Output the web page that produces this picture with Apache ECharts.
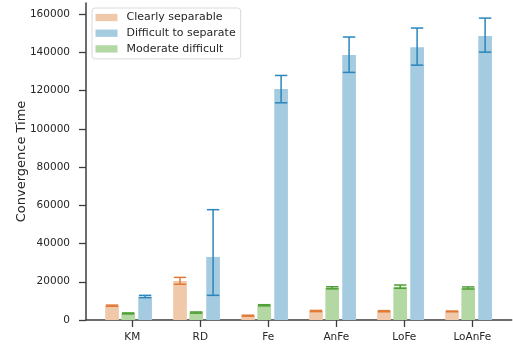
<!DOCTYPE html>
<html><head><meta charset="utf-8">
<script src="https://cdn.jsdelivr.net/npm/echarts@6/dist/echarts.min.js"></script>
<style>html,body{margin:0;padding:0;background:#fff}#c{width:513px;height:345px}</style>
</head><body><div id="c"></div>
<script>
const categories = ['KM', 'RD', 'Fe', 'AnFe', 'LoFe', 'LoAnFe'];
const seriesNames = ['Clearly separable', 'Difficult to separate', 'Moderate difficult'];
const clearMean = [7500, 20400, 2200, 4700, 4600, 4500];
const clearLow  = [7200, 18700, 2000, 4400, 4300, 4300];
const clearHigh = [7800, 22300, 2500, 5000, 4900, 4700];
const diffMean = [12200, 33000, 120800, 138600, 142700, 148500];
const diffLow  = [11700, 12900, 113600, 129500, 133300, 140100];
const diffHigh = [12900, 57700, 127900, 148000, 152700, 157900];
const modMean = [3400, 3900, 7700, 16900, 17400, 16700];
const modLow  = [3200, 3600, 7400, 16300, 16600, 16200];
const modHigh = [3700, 4200, 8000, 17400, 18300, 17300];
const yTicks = [0, 20000, 40000, 60000, 80000, 100000, 120000, 140000, 160000];

const FONT = 'DejaVu Sans';
const catIdx = categories.map((c, i) => i);
const groups = [
  { name: seriesNames[0], mean: clearMean, lo: clearLow, hi: clearHigh, off: -0.2985, fill: '#f0c9aa', err: '#e07a36' },
  { name: seriesNames[2], mean: modMean, lo: modLow, hi: modHigh, off: -0.0603, fill: '#b3d8a4', err: '#4d9e33' },
  { name: seriesNames[1], mean: diffMean, lo: diffLow, hi: diffHigh, off: 0.188, fill: '#a5cbe1', err: '#2a86bc' }
];

function errRender(color) {
  return function (params, api) {
    const x = api.value(0), lo = api.value(1), hi = api.value(2);
    const a = api.coord([x, lo]), b = api.coord([x, hi]);
    const hw = 6.2;
    const st = { stroke: color, lineWidth: 1.5 };
    return { type: 'group', children: [
      { type: 'line', shape: { x1: a[0], y1: a[1], x2: b[0], y2: b[1] }, style: st },
      { type: 'line', shape: { x1: a[0] - hw, y1: a[1], x2: a[0] + hw, y2: a[1] }, style: st },
      { type: 'line', shape: { x1: b[0] - hw, y1: b[1], x2: b[0] + hw, y2: b[1] }, style: st }
    ]};
  };
}

const series = [];
groups.forEach(g => {
  series.push({
    name: g.name, type: 'bar', barWidth: 13.7, barGap: '-100%',
    itemStyle: { color: g.fill },
    data: catIdx.map(i => [i + g.off, g.mean[i]]),
    z: 2
  });
});
groups.forEach(g => {
  series.push({
    name: g.name + ' err', type: 'custom', renderItem: errRender(g.err),
    encode: { x: 0, y: [1, 2] },
    data: catIdx.map(i => [i + g.off, g.lo[i], g.hi[i]]),
    z: 5
  });
});

const axisColor = '#3d3d3d';
const chart = echarts.init(document.getElementById('c'), null, { renderer: 'canvas' });
chart.setOption({
  animation: false,
  textStyle: { fontFamily: FONT },
  grid: { left: 86, right: 1.3, top: 3, bottom: 25, containLabel: false },
  legend: {
    data: seriesNames, orient: 'vertical', left: 92, top: 8,
    backgroundColor: '#fff', borderColor: '#d9d9d9', borderWidth: 1, borderRadius: 3,
    padding: [3.5, 5, 4, 3.5], itemWidth: 22, itemHeight: 7.3, itemGap: 3.7,
    icon: 'rect',
    textStyle: { fontFamily: FONT, fontSize: 11, color: '#262626', lineHeight: 12, padding: [0, 0, 0, 4] }
  },
  xAxis: {
    type: 'value', min: -0.681, max: 5.579,
    splitLine: { show: false },
    axisLine: { show: true, onZero: false, lineStyle: { color: axisColor, width: 1.5 } },
    axisTick: { show: true, length: 7, customValues: catIdx, lineStyle: { color: axisColor, width: 1.3 } },
    axisLabel: { customValues: catIdx, formatter: v => categories[Math.round(v)], margin: 12,
      fontFamily: FONT, fontSize: 10.5, color: '#262626' }
  },
  yAxis: {
    type: 'value', min: 0, max: 165800,
    name: 'Convergence Time', nameLocation: 'middle', nameGap: 58, nameMoveOverlap: false,
    nameTextStyle: { fontFamily: FONT, fontSize: 13, color: '#262626' },
    splitLine: { show: false },
    axisLine: { show: true, onZero: false, lineStyle: { color: axisColor, width: 1.5 } },
    axisTick: { show: true, length: 7, customValues: yTicks, lineStyle: { color: axisColor, width: 1.3 } },
    axisLabel: { customValues: yTicks, formatter: v => String(v), margin: 16, fontFamily: FONT, fontSize: 10.5, color: '#262626' }
  },
  series: series
});
</script>
</body></html>
